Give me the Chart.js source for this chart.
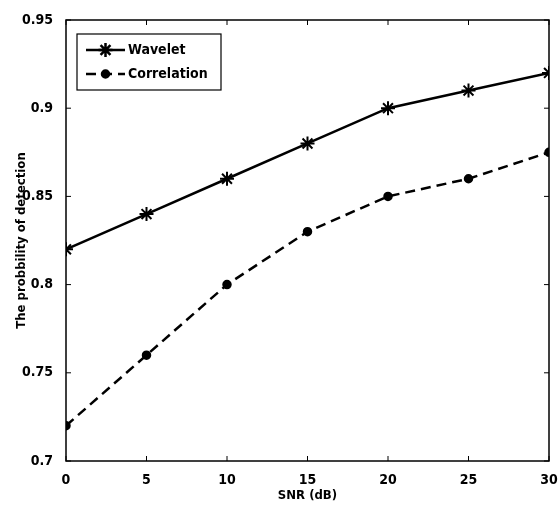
<!DOCTYPE html>
<html>
<head>
<meta charset="utf-8">
<script src="https://cdn.jsdelivr.net/npm/chart.js@4"></script>
<style>
  html, body { margin: 0; padding: 0; background: #fff; }
  #wrap { width: 558px; height: 505px; }
</style>
</head>
<body>
<div id="wrap"><canvas id="c" width="558" height="505"></canvas></div>
<script>
const snr = [0, 5, 10, 15, 20, 25, 30];
const wavelet = [0.82, 0.84, 0.86, 0.88, 0.90, 0.91, 0.92];
const correlation = [0.72, 0.76, 0.80, 0.83, 0.85, 0.86, 0.875];
const xTicks = [0, 5, 10, 15, 20, 25, 30];
const yTicks = [0.7, 0.75, 0.8, 0.85, 0.9, 0.95];

const FONT = '"Liberation Sans Narrow", "DejaVu Sans Condensed", "DejaVu Sans", sans-serif';

// MATLAB-like box, inward ticks on all sides, and legend inside the plot
const boxPlugin = {
    id: 'matlabBox',
    afterDatasetsDraw(chart) {
        const { ctx, chartArea: a, scales } = chart;
        ctx.save();
        ctx.strokeStyle = '#000';
        ctx.lineWidth = 1.5;
        ctx.strokeRect(a.left, a.top, a.right - a.left, a.bottom - a.top);
        ctx.lineWidth = 1;
        const t = 5;
        xTicks.forEach((v) => {
            const x = scales.x.getPixelForValue(v);
            ctx.beginPath();
            ctx.moveTo(x, a.bottom); ctx.lineTo(x, a.bottom - t);
            ctx.moveTo(x, a.top); ctx.lineTo(x, a.top + t);
            ctx.stroke();
        });
        yTicks.forEach((v) => {
            const y = scales.y.getPixelForValue(v);
            ctx.beginPath();
            ctx.moveTo(a.left, y); ctx.lineTo(a.left + t, y);
            ctx.moveTo(a.right, y); ctx.lineTo(a.right - t, y);
            ctx.stroke();
        });

        // legend
        const lx = a.left + 11, ly = a.top + 14, lw = 144, lh = 56;
        ctx.fillStyle = '#fff';
        ctx.fillRect(lx, ly, lw, lh);
        ctx.lineWidth = 1.2;
        ctx.strokeRect(lx, ly, lw, lh);
        ctx.font = 'bold 14px ' + FONT;
        ctx.textBaseline = 'middle';
        chart.data.datasets.forEach((ds, i) => {
            const y = ly + 16 + i * 24;
            const x0 = lx + 9, x1 = lx + 48;
            ctx.strokeStyle = '#000';
            ctx.lineWidth = 2.5;
            ctx.setLineDash(ds.borderDash || []);
            ctx.beginPath();
            ctx.moveTo(x0, y); ctx.lineTo(x1, y);
            ctx.stroke();
            ctx.setLineDash([]);
            ctx.fillStyle = '#000';
            Chart.helpers.drawPoint(ctx, {
                pointStyle: ds.pointStyle,
                radius: ds.pointRadius,
                borderWidth: ds.pointBorderWidth || 1,
                rotation: 0
            }, (x0 + x1) / 2, y);
            ctx.fillText(ds.label, x1 + 3, y);
        });
        ctx.restore();
    }
};

new Chart(document.getElementById('c'), {
    type: 'line',
    data: {
        datasets: [{
            label: 'Wavelet',
            data: snr.map((x, i) => ({ x, y: wavelet[i] })),
            borderColor: '#000',
            backgroundColor: '#000',
            borderWidth: 2.5,
            pointStyle: 'star',
            pointRadius: 7,
            pointBorderWidth: 2,
            pointBorderColor: '#000',
            tension: 0
        }, {
            label: 'Correlation',
            data: snr.map((x, i) => ({ x, y: correlation[i] })),
            borderColor: '#000',
            backgroundColor: '#000',
            borderWidth: 2.5,
            borderDash: [10, 6],
            pointStyle: 'circle',
            pointRadius: 3.5,
            pointBorderColor: '#000',
            tension: 0
        }]
    },
    options: {
        responsive: false,
        animation: false,
        layout: { padding: { top: 20, right: 8, left: 0, bottom: 0 } },
        plugins: { legend: { display: false }, tooltip: { enabled: false } },
        scales: {
            x: {
                type: 'linear',
                min: 0, max: 30,
                afterBuildTicks: (s) => { s.ticks = xTicks.map((v) => ({ value: v })); },
                afterFit: (s) => { s.height = 44; s.paddingLeft = 0; s.paddingRight = 0; },
                grid: { display: false },
                border: { display: false },
                ticks: {
                    color: '#000',
                    padding: 3,
                    font: { family: FONT, size: 14, weight: 'bold' },
                    maxRotation: 0
                },
                title: {
                    display: true,
                    text: 'SNR (dB)',
                    color: '#000',
                    padding: { top: 0, bottom: 2 },
                    font: { family: FONT, size: 13, weight: 'bold' }
                }
            },
            y: {
                min: 0.7, max: 0.95,
                afterBuildTicks: (s) => { s.ticks = yTicks.map((v) => ({ value: v })); },
                afterFit: (s) => { s.width = 66; s.paddingTop = 0; s.paddingBottom = 0; },
                grid: { display: false },
                border: { display: false },
                ticks: {
                    color: '#000',
                    padding: 5,
                    font: { family: FONT, size: 14, weight: 'bold' },
                    callback: (v) => String(+v.toFixed(2))
                },
                title: {
                    display: true,
                    text: 'The probbility of detection',
                    color: '#000',
                    padding: { top: 14, bottom: 0 },
                    font: { family: FONT, size: 13, weight: 'bold' }
                }
            }
        }
    },
    plugins: [boxPlugin]
});
</script>
</body>
</html>
